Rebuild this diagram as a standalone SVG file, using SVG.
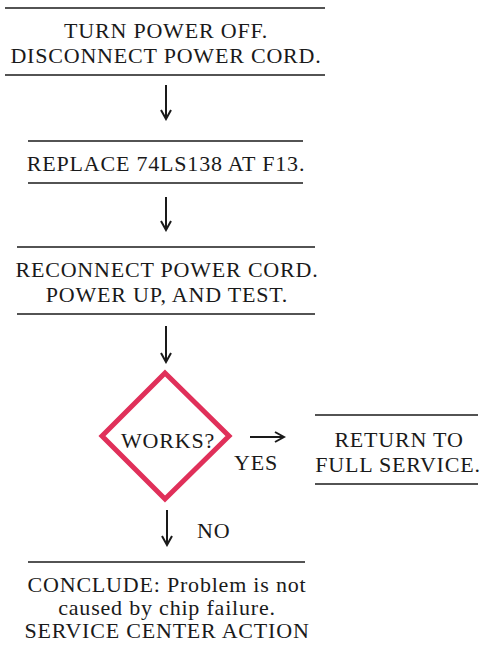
<svg xmlns="http://www.w3.org/2000/svg" width="481" height="652" viewBox="0 0 481 652">
<defs>
<marker id="ah" markerWidth="12" markerHeight="12" refX="10" refY="6" orient="auto" markerUnits="userSpaceOnUse">
<path d="M1,1 L10,6 L1,11" fill="none" stroke="#1a1a1a" stroke-width="2"/>
</marker>
</defs>
<style>
text{font-family:"Liberation Serif","Times New Roman",serif;font-size:22px;letter-spacing:0.8px;fill:#1a1a1a;text-anchor:middle}
.rule{stroke:#1a1a1a;stroke-width:1.6}
.conn{stroke:#1a1a1a;stroke-width:2;fill:none}
.dia{fill:none;stroke:#e0305a;stroke-width:5;stroke-linejoin:miter}
.lbl{text-anchor:start}
</style>
<rect width="481" height="652" fill="#ffffff"/>
<g id="n1">
<line class="rule" x1="5" y1="8" x2="325" y2="8"/>
<text x="166" y="38">TURN POWER OFF.</text>
<text x="166" y="63">DISCONNECT POWER CORD.</text>
<line class="rule" x1="5" y1="75" x2="325" y2="75"/>
</g>
<g id="n2">
<line class="rule" x1="28" y1="141" x2="303" y2="141"/>
<text x="166" y="171">REPLACE 74LS138 AT F13.</text>
<line class="rule" x1="28" y1="183" x2="303" y2="183"/>
</g>
<g id="n3">
<line class="rule" x1="17" y1="247" x2="315" y2="247"/>
<text x="167" y="277">RECONNECT POWER CORD.</text>
<text x="167" y="302">POWER UP, AND TEST.</text>
<line class="rule" x1="17" y1="314" x2="315" y2="314"/>
</g>
<g id="n4">
<polygon class="dia" points="165,373 229,436 165,499 102,436"/>
<text x="168" y="448">WORKS?</text>
</g>
<g id="n5">
<line class="rule" x1="315" y1="415" x2="478" y2="415"/>
<text x="399" y="447">RETURN TO</text>
<text x="398" y="472">FULL SERVICE.</text>
<line class="rule" x1="315" y1="484" x2="478" y2="484"/>
</g>
<g id="n6">
<line class="rule" x1="28" y1="562" x2="305" y2="562"/>
<text x="167" y="592">CONCLUDE: Problem is not</text>
<text x="167" y="615">caused by chip failure.</text>
<text x="167" y="638">SERVICE CENTER ACTION</text>
</g>
<g id="connectors">
<line class="conn" x1="166" y1="85" x2="166" y2="119" marker-end="url(#ah)"/>
<line class="conn" x1="166" y1="197" x2="166" y2="230" marker-end="url(#ah)"/>
<line class="conn" x1="166" y1="326" x2="166" y2="362" marker-end="url(#ah)"/>
<line class="conn" x1="250" y1="437" x2="284" y2="437" marker-end="url(#ah)"/>
<text class="lbl" x="234" y="470">YES</text>
<line class="conn" x1="167" y1="510" x2="167" y2="545" marker-end="url(#ah)"/>
<text class="lbl" x="197" y="538">NO</text>
</g>
</svg>
